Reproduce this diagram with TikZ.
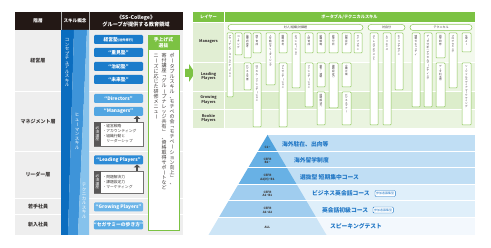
\documentclass[tikz,border=0pt]{standalone}
\usepackage{fontspec}
\setmainfont{Noto Sans CJK JP}
\usetikzlibrary{calc,arrows.meta}
\definecolor{hdr}{HTML}{231815}
\definecolor{lg}{HTML}{EEEEEE}
\definecolor{txt}{HTML}{3E3A39}
\definecolor{skA}{HTML}{0B6DBF}
\definecolor{skB}{HTML}{3E94D9}
\definecolor{skC}{HTML}{86C2EC}
\definecolor{bA}{HTML}{1B7CCB}
\definecolor{bB}{HTML}{52A6E2}
\definecolor{bC}{HTML}{2D8BD6}
\definecolor{bD}{HTML}{6DB5E8}
\definecolor{bE}{HTML}{5AABE4}
\definecolor{hbd}{HTML}{727171}
\definecolor{hg}{HTML}{595757}
\definecolor{ag}{HTML}{4D4D4D}
\definecolor{gG}{HTML}{7CC243}
\definecolor{gB}{HTML}{8DC75A}
\definecolor{gL}{HTML}{E1EED3}
\definecolor{gR1}{HTML}{F3F9ED}
\definecolor{gR2}{HTML}{EAF4E0}
\definecolor{gR3}{HTML}{DCEDCB}
\definecolor{pT0}{HTML}{4FA2DD}
\definecolor{pT1}{HTML}{68B1E5}
\definecolor{pT2}{HTML}{A0CDEF}
\definecolor{pT3}{HTML}{CDE5F6}
\definecolor{pB1}{HTML}{C0DEF4}
\definecolor{pB2}{HTML}{DFEFFA}
\definecolor{pB3}{HTML}{F3F8FD}
\definecolor{cT}{HTML}{2278C6}
\makeatletter
\newcommand\vjp[1]{\vbox{\offinterlineskip\@tfor\vjp@c:=#1\do{\expandafter\in@\expandafter{\vjp@c}{ー「」()（）/～}\hbox to 1em{\hss\vrule width0pt height.88em depth.12em\ifin@\rotatebox[origin=c]{-90}{\vjp@c}\else\vjp@c\fi\hss}}}}
\makeatother
\tikzset{
  hdrtxt/.style={text=white, font=\bfseries\fontsize{4.6}{6.5}\selectfont, align=center},
  rowlab/.style={text=txt, font=\bfseries\fontsize{5}{6}\selectfont},
  sktxt/.style={text=white, font=\fontsize{4.5}{4.5}\selectfont, anchor=north},
  bx/.style={rounded corners=1.2pt, minimum width=49pt, minimum height=9pt, text=white, font=\bfseries\fontsize{4.8}{5}\selectfont},
  hisu/.style={draw=hbd, fill=white, line width=0.5pt, minimum width=49pt},
  hisul/.style={fill=hg, minimum width=7pt, anchor=west, text=white},
  bul/.style={anchor=west, align=left, text=txt, font=\fontsize{3.8}{5}\selectfont},
  uparr/.style={-{Triangle[width=6.5pt,length=3pt]}, line width=2.6pt, draw=ag},
  seltxt/.style={anchor=north, text=txt, font=\fontsize{5}{5}\selectfont},
  ghtxt/.style={text=white, font=\bfseries\fontsize{4.2}{5}\selectfont},
  glab/.style={text=txt, align=center, font=\bfseries\fontsize{3.8}{4.4}\selectfont},
  pill/.style={draw=gB, fill=white, line width=0.5pt, rounded corners=3pt, minimum height=6pt, anchor=north west, text=txt, font=\fontsize{3}{3}\selectfont},
  vbx/.style={draw=gB, fill=white, line width=0.5pt, rounded corners=0.8pt},
  vtx/.style={anchor=north, text=txt, font=\fontsize{2.6}{2.6}\selectfont},
  pyt/.style={text=txt, align=center, font=\bfseries\fontsize{3}{3.6}\selectfont},
  crs/.style={anchor=west, text=cT, font=\bfseries\fontsize{5.8}{6}\selectfont},
  bosyu/.style={anchor=west, draw=cT, fill=white, line width=0.4pt, rounded corners=1pt, inner xsep=1.2pt, minimum height=6pt, text=cT, font=\fontsize{3}{3}\selectfont}
}
\newcommand\mkvbox[6]{%
  \node[vbx, anchor=north west, minimum width={(#3)-(#2)}, minimum height={(#5)-(#4)}] (#1) at (#2,#4) {};
  \node[vtx] (#1t) at ($(#1.north)+(0,2)$) {\vjp{#6}};}
\begin{document}
\begin{tikzpicture}[x=1pt,y=-1pt,every node/.style={inner sep=0pt,outer sep=0pt}]
\useasboundingbox (0,0) rectangle (491,248);
\fill[white] (0,0) rectangle (491,248);
% ---------- left table ----------
\fill[hdr] (15,12) rectangle (183,30);
\draw[gray!60, line width=0.4pt] (61,12)--(61,30) (89,12)--(89,30);
\fill[lg] (15,30) rectangle (183,235);
\foreach \y in {92,152,199,215} \draw[white,line width=1pt] (15,\y)--(183,\y);
\fill[skA] (61,30)--(74,30)--(68,235)--(61,235)--cycle;
\fill[skB] (74,30)--(87,30)--(78,235)--(68,235)--cycle;
\fill[skC] (87,30)--(89,30)--(89,235)--(78,235)--cycle;
\node[hdrtxt] (hA) at (38,21) {階層};
\node[hdrtxt] (hB) at (75,21) {スキル概念};
\node[hdrtxt, font=\bfseries\fontsize{5.2}{7}\selectfont] (hC) at (136,21) {《SS-College》\\グループが提供する教育領域};
\node[rowlab] (r1) at (38,61) {経営層};
\node[rowlab] (r2) at (38,122) {マネジメント層};
\node[rowlab] (r3) at (38,175) {リーダー層};
\node[rowlab] (r4) at (38,207) {若手社員};
\node[rowlab] (r5) at (38,225) {新入社員};
\node[sktxt] (s1) at (67,38) {\vjp{コンセプチュアルスキル}};
\node[sktxt] (s2) at (77,113) {\vjp{ヒューマンスキル}};
\node[sktxt] (s3) at (84,183) {\vjp{テクニカルスキル}};
\node[bx, fill=bA] (k1) at (118.5,39.5) {経営塾{\fontsize{3.2}{4}\selectfont (社外修行)}};
\node[bx, fill=bA] (k2) at (118.5,52.5) {“重見塾”};
\node[bx, fill=bA] (k3) at (118.5,66.5) {“治紀塾”};
\node[bx, fill=bA] (k4) at (118.5,79.5) {“未来塾”};
\node[bx, fill=bB] (d1) at (118.5,98.5) {“Directors”};
\node[bx, fill=bB] (d2) at (118.5,111.5) {“Managers”};
\node[hisu, minimum height=24pt] (h1) at (118.5,134) {};
\node[hisul, minimum height=24pt] (h1l) at (h1.west) {};
\node[text=white, font=\fontsize{3.6}{3.6}\selectfont] (h1lt) at (h1l.center) {\vjp{必須講座}};
\node[bul] (h1t) at (102.5,134) {・経営戦略\\・アカウンティング\\・組織行動と\\\hspace*{3.8pt}リーダーシップ};
\node[bx, fill=bC] (lp) at (118.5,160) {“Leading Players”};
\node[hisu, minimum height=22pt] (h2) at (118.5,182) {};
\node[hisul, minimum height=22pt] (h2l) at (h2.west) {};
\node[text=white, font=\fontsize{3.6}{3.6}\selectfont] (h2lt) at (h2l.center) {\vjp{必須講座}};
\node[bul] (h2t) at (102.5,182) {・問題解決力\\・課題設定力\\・マーケティング};
\node[bx, fill=bD] (gp) at (118.5,207) {“Growing Players”};
\node[bx, fill=bE] (ss) at (118.5,225) {“セガサミーの歩き方”};
\draw[uparr] ($(h1.north)+(18.5,0)$) -- ($(d2.south)+(18.5,0)$);
\draw[uparr] ($(h2.north)+(18.5,0)$) -- ($(lp.south)+(18.5,0)$);
\node[draw=gG, fill=white, line width=0.9pt, minimum width=31pt, minimum height=195pt, anchor=north west] (sel) at (148,35) {};
\node[fill=gG, minimum width=31pt, minimum height=15pt, anchor=north west, text=white, align=center, font=\bfseries\fontsize{4.8}{6}\selectfont] (selh) at (148,35) {手上げ式\\選抜};
\node[seltxt] (v1) at (172,53) {\vjp{ポータブルスキル、モチベの会「モチベーション向上」、}};
\node[seltxt] (v2) at (164,53) {\vjp{寄付講座「グループナレッジ共有」、資格取得サポートなど}};
\node[seltxt] (v3) at (156,53) {\vjp{ニーズに応じた研修メニュー}};
% ---------- green arrow ----------
\fill[gG] (185,69)--(189,69)--(189,64)--(195,73)--(189,82)--(189,77)--(185,77)--cycle;
% ---------- right table ----------
\fill[gG] (193,12) rectangle (475,22);
\fill[gL] (193,22) rectangle (224,128);
\fill[gR1] (224,22) rectangle (475,62);
\fill[gR2] (224,62) rectangle (475,91);
\fill[gR3] (224,91) rectangle (475,109);
\fill[gR2] (224,109) rectangle (475,128);
\draw[white, line width=0.8pt] (224,12)--(224,128);
\foreach \y in {22,62,91,109} \draw[white,line width=0.8pt] (193,\y)--(475,\y);
\node[ghtxt] (gh1) at (208.5,17) {レイヤー};
\node[ghtxt] (gh2) at (349.5,17) {ポータブル/テクニカルスキル};
\node[glab] (gl1) at (208.5,42) {Managers};
\node[glab] (gl2) at (208.5,76.5) {Leading\\Players};
\node[glab] (gl3) at (208.5,100) {Growing\\Players};
\node[glab] (gl4) at (208.5,118.5) {Rookie\\Players};
\node[pill, minimum width=135pt] (p1) at (228,24.5) {対人/組織/対課題};
\node[pill, minimum width=37pt] (p2) at (368,24.5) {対自分};
\node[pill, minimum width=62pt] (p3) at (410,24.5) {テクニカル};
\mkvbox{b1}{227}{233}{33}{97}{アサーティブ・コミュニケーション}
\mkvbox{b2}{235}{242}{33}{55}{コーチング}
\mkvbox{b3a}{244}{251}{33}{58}{論理的思考}
\mkvbox{b3b}{244}{251}{63}{90}{ビジネス文書}
\mkvbox{b4a}{253}{261}{33}{53}{部下育成}
\mkvbox{b4b}{253}{261}{63}{127}{ロジカル・ファシリテーション}
\mkvbox{b5}{266}{275}{33}{85}{人を動かすリーダーシップ}
\mkvbox{b6a}{279}{287}{33}{53}{戦略思考}
\mkvbox{b6b}{279}{287}{63}{127}{プレゼンテーション}
\mkvbox{b7}{292}{300}{33}{88}{ネゴシエーション}
\mkvbox{b8a}{305}{313}{33}{53}{人財育成}
\mkvbox{b8b}{305}{313}{63}{107}{ファシリテーション}
\mkvbox{b9a}{317}{325}{33}{53}{組織戦略}
\mkvbox{b9b}{317}{325}{63}{87}{報告・連絡}
\mkvbox{b9c}{317}{325}{92}{125}{問題解決力}
\mkvbox{b10a}{329}{338}{33}{53}{経営分析}
\mkvbox{b10b}{329}{338}{63}{108}{課題設定力}
\mkvbox{b11a}{342}{351}{33}{53}{財務会計}
\mkvbox{b11b}{342}{351}{63}{87}{企画立案}
\mkvbox{b11c}{342}{351}{92}{125}{ビジネスマナー}
\mkvbox{b12}{354}{362}{33}{53}{ライフプラン}
\mkvbox{b13}{370}{378}{33}{125}{ストレスマネジメント}
\mkvbox{b14}{383}{391}{33}{125}{レジリエンス}
\mkvbox{b15}{395}{403}{33}{90}{キャリアデザイン}
\mkvbox{b16}{412}{420}{33}{107}{情報セキュリティ}
\mkvbox{b17}{424}{432}{33}{107}{データ分析/デジタルマーケティング}
\mkvbox{b18a}{436}{445}{33}{58}{語学研修}
\mkvbox{b18b}{436}{445}{63}{107}{データ利活用}
\mkvbox{b19}{449}{457}{33}{88}{プログラミング}
\mkvbox{b20a}{462}{471}{33}{52}{生成AI}
\mkvbox{b20b}{462}{471}{63}{125}{ソーシャルメディアマーケティング}
% ---------- pyramid ----------
\foreach \ya/\yb/\c in {135/152/pB1,152/168/pB1,168/185/pB1,185/201/pB2,201/218/pB2,218/235/pB3}
  \fill[\c] (267,\ya) rectangle (475,\yb);
\foreach \ya/\yb/\c in {135/152/pT0,152/168/pT1,168/185/pT1,185/201/pT2,201/218/pT2,218/235/pT3}{
  \pgfmathsetmacro\wa{0.59*(\ya-135)}
  \pgfmathsetmacro\wb{0.59*(\yb-135)}
  \fill[\c] (267.5-\wa,\ya) -- (267.5+\wa,\ya) -- (267.5+\wb,\yb) -- (267.5-\wb,\yb) -- cycle;
}
\foreach \y in {152,168,185,201,218} \draw[white,line width=1pt] (200,\y)--(476,\y);
\node[pyt] (t1) at (267.5,147.5) {C1\textasciitilde};
\node[pyt] (t2) at (267.5,161) {CEFR\\B2\textasciitilde};
\node[pyt] (t3) at (267.5,177.5) {CEFR\\A2(H)\textasciitilde B1};
\node[pyt] (t4) at (267.5,194) {CEFR\\A2\textasciitilde B1};
\node[pyt] (t5) at (267.5,210.5) {CEFR\\A1\textasciitilde A2};
\node[pyt] (t6) at (267.5,227) {ALL};
\node[crs] (c1) at (282,144) {海外駐在、出向等};
\node[crs] (c2) at (294,160) {海外留学制度};
\node[crs] (c3) at (300,177) {選抜型\ 短期集中コース};
\node[crs] (c4) at (312,193.3) {ビジネス英会話コース};
\node[crs] (c5) at (322,210) {英会話初級コース};
\node[crs] (c6) at (330,226.7) {スピーキングテスト};
\node[bosyu] (q1) at (375,193.5) {参加者募集型};
\node[bosyu] (q2) at (373,210) {参加者募集型};
\end{tikzpicture}
\end{document}
